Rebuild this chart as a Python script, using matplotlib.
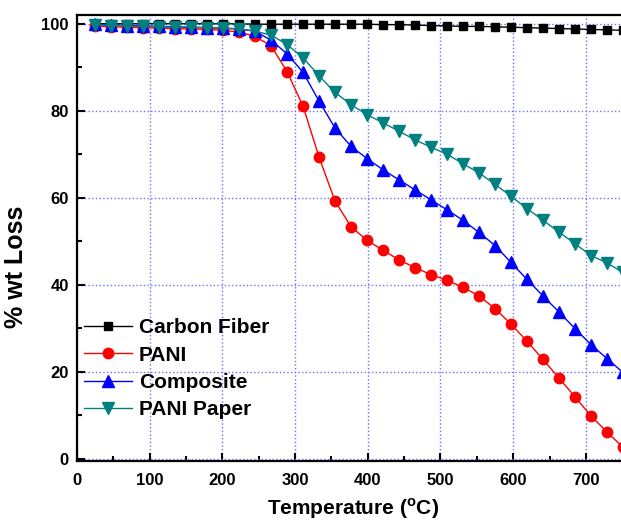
import matplotlib
matplotlib.use("Agg")
import matplotlib.pyplot as plt
from matplotlib.ticker import MultipleLocator

plt.rcParams["font.family"] = ["Liberation Sans", "DejaVu Sans"]
plt.rcParams["font.weight"] = "bold"

# temperaturas de los puntos (cada ~22 C)
temp = [25, 47, 69, 91, 113, 135, 157, 179, 201, 223, 245, 267, 289, 311, 333, 355, 377,
        399, 421, 443, 465, 487, 509, 531, 553, 575, 597, 619, 641, 663, 685, 707, 729, 751]

carbon_fiber = [100.0, 100.0, 100.0, 100.0, 100.0, 100.0, 100.0, 100.0, 100.0, 100.0, 99.9,
                99.9, 99.9, 99.9, 99.9, 99.9, 99.9, 99.9, 99.8, 99.8, 99.7, 99.6, 99.5,
                99.4, 99.4, 99.3, 99.2, 99.1, 99.0, 98.9, 98.8, 98.7, 98.6, 98.5]
pani = [99.5, 99.3, 99.2, 99.1, 99.0, 98.9, 98.8, 98.7, 98.5, 98.1, 97.1, 94.9, 89.0, 81.0,
        69.3, 59.2, 53.3, 50.2, 47.9, 45.7, 43.9, 42.3, 41.0, 39.4, 37.4, 34.5, 30.9, 27.0,
        22.8, 18.5, 14.2, 9.8, 6.1, 2.6]
composite = [99.9, 99.7, 99.6, 99.5, 99.4, 99.3, 99.2, 99.1, 99.0, 98.8, 98.3, 96.2, 93.1,
             88.8, 82.2, 76.0, 71.8, 69.0, 66.4, 64.1, 61.8, 59.5, 57.2, 54.8, 52.0, 49.0,
             45.1, 41.2, 37.4, 33.7, 29.9, 26.2, 23.0, 19.8]
pani_paper = [99.8, 99.6, 99.5, 99.4, 99.3, 99.2, 99.2, 99.1, 99.0, 98.8, 98.3, 97.4, 95.2,
              92.2, 88.0, 84.2, 81.4, 79.1, 77.2, 75.3, 73.3, 71.6, 70.0, 67.8, 65.7, 63.1,
              60.3, 57.5, 54.8, 52.1, 49.4, 46.7, 45.0, 42.8]

fig = plt.figure(figsize=(6.21, 5.2), dpi=100)
ax = fig.add_axes([0.124, 0.114, 0.8897, 0.857])

ax.plot(temp, carbon_fiber, color="black", lw=1, marker="s", ms=6, label="Carbon Fiber")
ax.plot(temp, pani, color="red", lw=1, marker="o", ms=7.5, label="PANI")
ax.plot(temp, composite, color="blue", lw=1, marker="^", ms=8, label="Composite")
ax.plot(temp, pani_paper, color="#008080", lw=1, marker="v", ms=8, label="PANI Paper")

ax.set_xlim(0, 760)
ax.set_ylim(-0.5, 102)

ax.xaxis.set_major_locator(MultipleLocator(100))
ax.xaxis.set_minor_locator(MultipleLocator(50))
ax.yaxis.set_major_locator(MultipleLocator(20))
ax.yaxis.set_minor_locator(MultipleLocator(10))

ax.grid(True, which="major", color="#7070ff", linestyle=":", lw=1)
ax.tick_params(which="major", direction="in", length=6, width=1.5, labelsize=12, pad=6)
ax.tick_params(axis="x", which="major", pad=9)
ax.tick_params(which="minor", direction="in", length=3.5, width=1.5)
ax.tick_params(top=False, right=False)
for lab in ax.get_xticklabels() + ax.get_yticklabels():
    lab.set_fontweight("bold")

for s in ax.spines.values():
    s.set_linewidth(1.6)

ax.set_xlabel("Temperature ($^{\\mathregular{o}}$C)", fontsize=15, fontweight="bold", labelpad=6)
ax.set_ylabel("% wt Loss", fontsize=18, fontweight="bold")
# la etiqueta del eje y esta algo mas abajo que el centro
ax.yaxis.set_label_coords(-0.088, 0.435)

ax.legend(loc="upper left", bbox_to_anchor=(0.135, 0.388), bbox_transform=fig.transFigure,
          frameon=False, handlelength=2.3, handletextpad=0.35,
          labelspacing=0.4, borderpad=0, borderaxespad=0,
          prop={"weight": "bold", "size": 15})

fig.savefig("out.png", dpi=100)
